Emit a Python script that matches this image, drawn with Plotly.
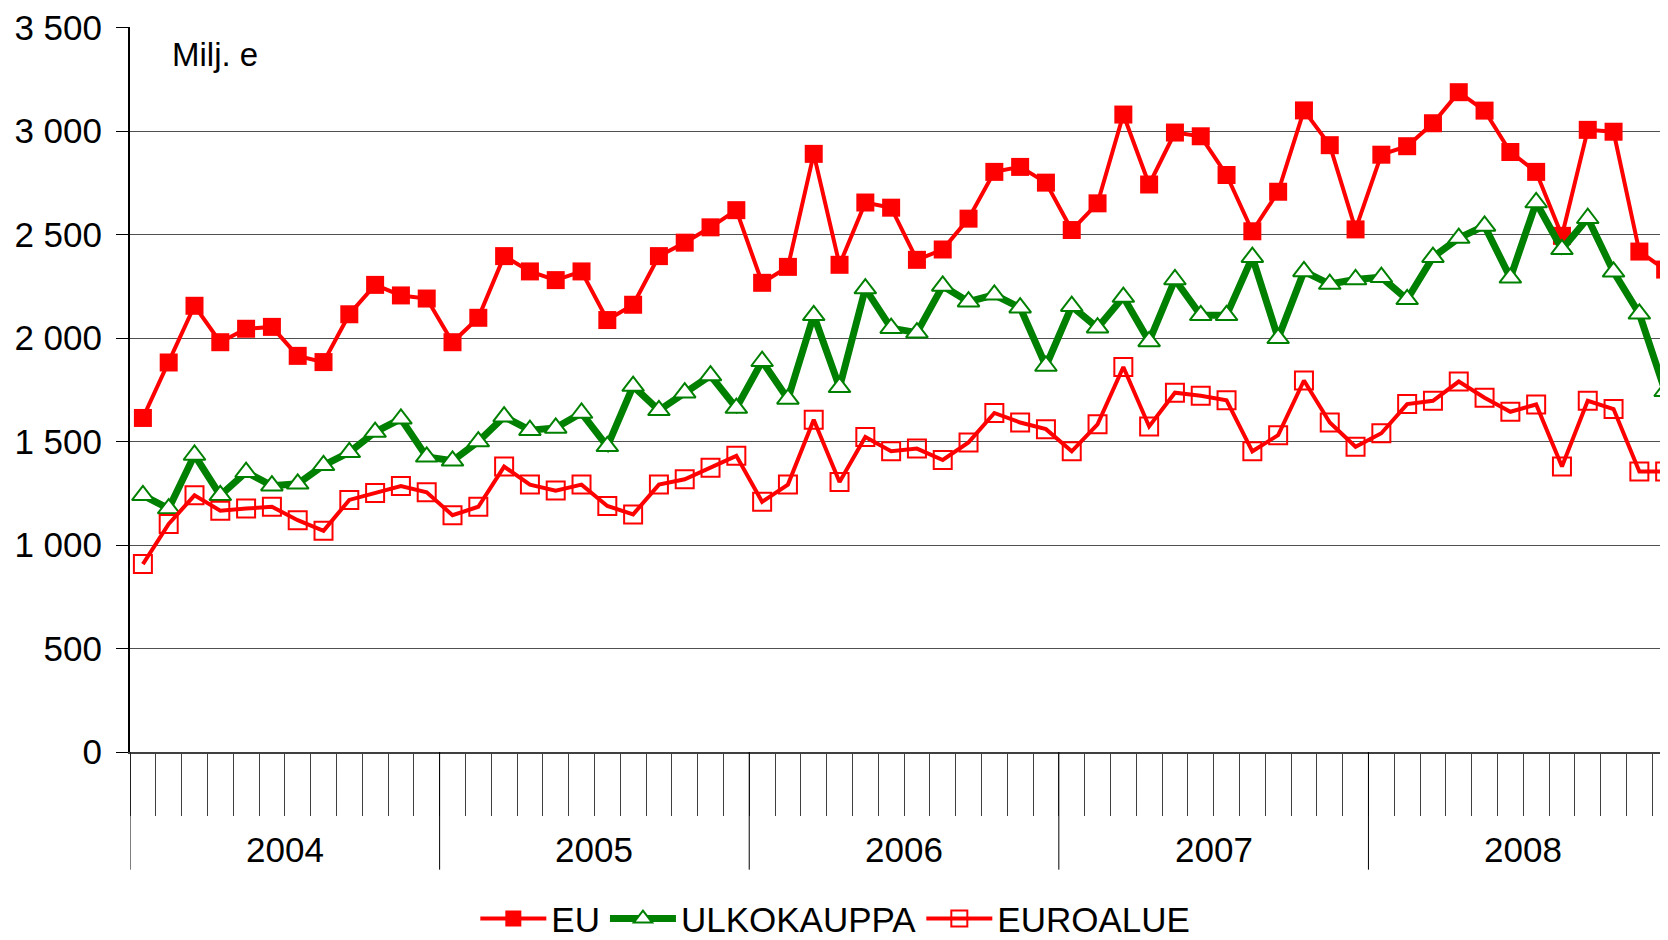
import plotly.graph_objects as go

YEARS = [2004, 2005, 2006, 2007, 2008]

# Milj. e, monthly 2004-2008
EU = [
    1614, 1882, 2156, 1980, 2045, 2054, 1914, 1884, 2115, 2257, 2206, 2191,
    1980, 2098, 2396, 2322, 2280, 2322, 2087, 2161, 2396, 2461, 2535, 2618,
    2267, 2344, 2890, 2354, 2655, 2630, 2378, 2428, 2577, 2803, 2827, 2751,
    2522, 2651, 3080, 2742, 2993, 2975, 2788, 2516, 2707, 3100, 2932, 2525,
    2886, 2927, 3038, 3188, 3099, 2899, 2803, 2494, 3006, 2997, 2418, 2331,
]
ULKOKAUPPA = [
    1240, 1176, 1435, 1240, 1352, 1287, 1296, 1385, 1448, 1546, 1610, 1426,
    1407, 1500, 1620, 1555, 1566, 1638, 1477, 1768, 1651, 1736, 1819, 1662,
    1888, 1706, 2110, 1762, 2239, 2048, 2026, 2252, 2176, 2209, 2147, 1865,
    2154, 2050, 2198, 1984, 2283, 2110, 2110, 2391, 1999, 2322, 2261, 2283,
    2294, 2187, 2391, 2483, 2542, 2291, 2655, 2429, 2579, 2320, 2117, 1743,
]
EUROALUE = [
    908, 1102, 1240, 1166, 1176, 1185, 1120, 1069, 1218, 1252, 1285, 1255,
    1144, 1185, 1379, 1292, 1263, 1292, 1189, 1148, 1292, 1318, 1374, 1431,
    1209, 1292, 1605, 1305, 1522, 1453, 1466, 1411, 1496, 1638, 1592, 1560,
    1453, 1583, 1860, 1573, 1736, 1721, 1699, 1453, 1531, 1795, 1592, 1475,
    1540, 1681, 1697, 1790, 1712, 1644, 1679, 1379, 1697, 1657, 1355, 1355,
]

FONT = "Liberation Sans, Arial, sans-serif"
x = list(range(len(EU)))

fig = go.Figure()

fig.add_trace(go.Scatter(
    x=x, y=EU, name="EU", mode="lines+markers",
    line=dict(color="#FF0000", width=4),
    marker=dict(symbol="square", size=18, color="#FF0000"),
))
fig.add_trace(go.Scatter(
    x=x, y=ULKOKAUPPA, name="ULKOKAUPPA", mode="lines+markers",
    line=dict(color="#008000", width=7),
    marker=dict(symbol="triangle-up", size=19, color="white",
                line=dict(color="#008000", width=2)),
))
fig.add_trace(go.Scatter(
    x=x, y=EUROALUE, name="EUROALUE", mode="lines+markers",
    line=dict(color="#FF0000", width=4),
    marker=dict(symbol="square-open", size=18, color="#FF0000",
                line=dict(width=2)),
))

# month boundaries get short ticks, year boundaries long lines
n_months = len(EU)
year_edges = [12 * i - 0.5 for i in range(len(YEARS) + 1)]
month_edges = [i - 0.5 for i in range(n_months + 1)]

shapes = [dict(
    type="line", xref="x", yref="paper", x0=e, x1=e, y0=0, y1=-0.1623,
    line=dict(color="black", width=1),
) for e in year_edges]

annotations = [dict(
    text="Milj. e", xref="paper", yref="paper", x=0.026, y=0.962,
    xanchor="left", yanchor="middle", showarrow=False,
    font=dict(size=33, color="black", family=FONT),
)]
for i, yr in enumerate(YEARS):
    annotations.append(dict(
        text=str(yr), xref="x", yref="paper", x=12 * i + 5.5, y=-0.134,
        xanchor="center", yanchor="middle", showarrow=False,
        font=dict(size=35, color="black", family=FONT),
    ))

fig.update_layout(
    width=1668, height=940,
    margin=dict(l=122, r=0, t=16, b=196),
    plot_bgcolor="white", paper_bgcolor="white",
    font=dict(family=FONT, size=35, color="black"),
    separators=", ",
    showlegend=True,
    legend=dict(
        orientation="h", xref="container", x=0.496, xanchor="center",
        yref="container", y=0.031, yanchor="middle",
        font=dict(size=35, color="black", family=FONT),
        itemwidth=66, bgcolor="rgba(0,0,0,0)",
    ),
    shapes=shapes,
    annotations=annotations,
    xaxis=dict(
        range=[-0.5, 59.42], showgrid=False, zeroline=False,
        showline=True, linecolor="#404040", linewidth=2,
        tickmode="array", tickvals=month_edges,
        ticktext=[""] * len(month_edges),
        ticks="outside", ticklen=62, tickcolor="#404040", tickwidth=1,
    ),
    yaxis=dict(
        range=[0, 3503], tickvals=[0, 500, 1000, 1500, 2000, 2500, 3000, 3500],
        tickformat=",d", showgrid=True, gridcolor="#505050", gridwidth=1,
        zeroline=False, showline=True, linecolor="black", linewidth=2,
        ticks="outside", ticklen=12, tickcolor="black", tickwidth=1,
        ticklabelstandoff=7, ticklabeloverflow="allow",
        tickfont=dict(size=35, family=FONT),
    ),
)

fig.write_html("out.html")
